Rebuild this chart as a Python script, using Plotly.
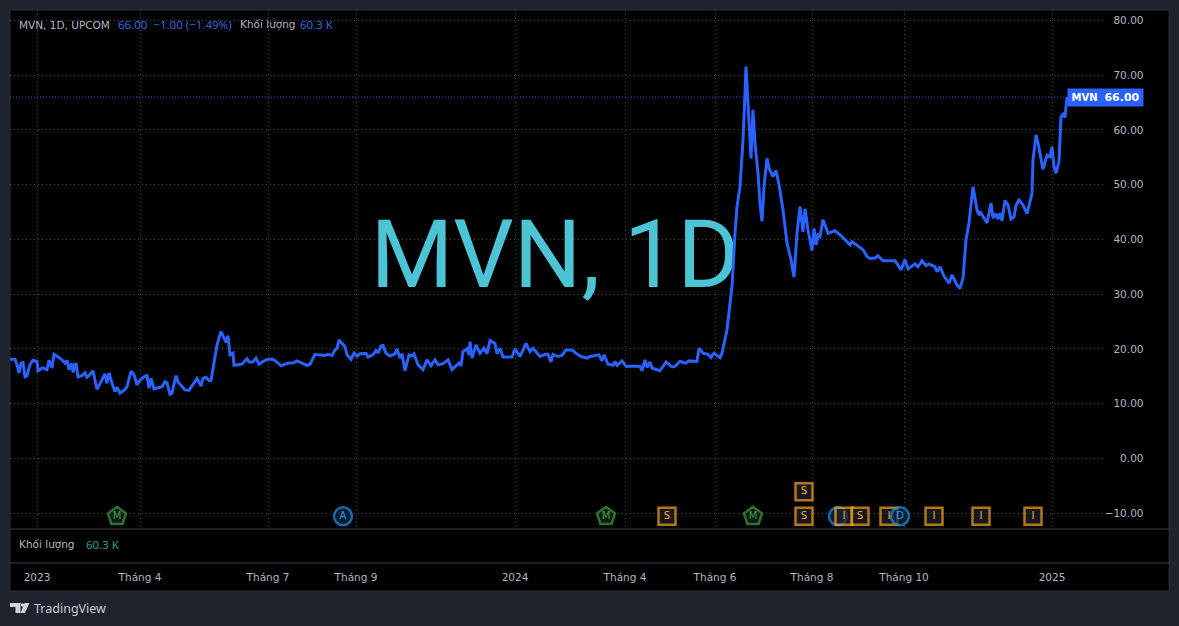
import plotly.graph_objects as go

# ---------- data: (bar position, close) ----------
early_2023 = [(0,18.1),(5,18.1),(7,17.1),(9,15.6),(11,17.4),(13,17.5),(15,14.9),(17,15.1),(20,17.1),(23,17.9),
(27,17.7),(28,16.0),(32,16.5),(33,16.5),(37,16.2),(39,17.9),(42,16.5),(44,19.0),(48,18.5),(52,18.0),(55,17.4),
(57,17.9),(59,16.2),(62,17.4),(63,15.7),(66,17.4),(68,14.9),(72,15.1),(75,15.6),(77,14.8),(79,15.1),(83,16.0),
(86,13.4),(87,12.6),(91,14.0),(95,15.4),(97,13.7),(99,15.6),(102,13.7),(105,12.2),(107,13.0),(110,11.9),
(115,12.6),(117,13.1),(121,15.9),(124,15.3),(127,13.4),(130,14.3),(134,14.9),(137,15.1),(139,12.8),(141,14.6),
(144,12.7),(148,12.9),(152,13.1),(155,14.0),(157,13.8),(160,11.7),(162,11.9),(166,15.1),(168,14.0),(172,13.1),
(175,12.5),(179,12.4),(183,13.4),(187,14.6),(191,13.2),(193,14.6),(196,14.8),(199,14.2),(201,14.2)]
mid_2023 = [(204,17.7),(207,20.7),(211,23.2),(214,22.1),(216,21.2),(218,22.4),(220,18.9),(223,19.2),(224,17.0),
(228,17.1),(232,17.2),(237,18.2),(239,17.6),(243,17.6),(246,18.3),(249,17.2),(253,17.7),(258,18.1),(263,18.1),
(266,17.7),(271,16.9),(275,17.2),(279,17.4),(283,17.4),(287,17.8),(292,17.4),(297,17.0),(300,17.2),(305,19.0),
(308,18.9),(315,18.8),(318,19.0),(322,18.8),(325,19.8),(327,20.1),(329,21.6)]
late_2023 = [(333,20.7),(335,20.4),(337,18.9),(341,18.1),(344,19.2),(347,18.7),(350,19.1),(356,19.2),(358,18.5),
(363,18.9),(366,19.7),(368,19.2),(371,20.5),(373,20.6),(376,19.2),(380,18.7),(385,19.1),(387,20.0),(390,18.3),
(392,19.1),(395,16.0),(399,18.9),(402,18.7),(404,19.1),(408,17.1),(413,16.2),(417,18.0),(421,16.9),(425,18.0),
(428,17.1),(433,17.3),(438,18.0),(442,16.2),(445,16.8),(449,17.4),(451,16.9),(453,19.5),(457,20.0),(459,18.9),
(460,21.3),(462,18.3),(466,20.7),(470,19.2),(474,20.1),(477,19.1),(480,21.5),(485,21.0),(487,19.1),(490,20.1),
(493,18.5),(502,18.5),(505,20.0),(510,18.6),(516,21.0),(520,19.5),(523,20.1),(529,18.7)]
early_2024 = [(530,18.6),(535,19.0),(538,19.0),(541,17.6),(543,19.0),(548,18.6),(552,18.8),(556,19.8),(562,19.8),
(566,19.2),(571,18.6),(577,18.3),(580,18.6),(589,18.9),(592,17.8),(594,18.9),(598,17.2),(603,17.0),(605,17.7),
(607,17.0),(612,17.8),(616,16.8),(630,16.8),(632,16.0),(635,18.0),(637,16.6),(640,17.6),(642,16.5),(650,16.0),
(656,17.6),(662,16.7),(665,16.8),(670,17.7),(676,17.4),(679,17.8),(687,17.7),(689,20.1),(693,19.2),(698,19.0),
(701,18.4),(704,19.2),(710,18.4),(712,19.2)]
spike_2024 = [(717,23.5),(722,31.4),(725,41.1),(727,46.0),(730,49.6),(733,58.2),(735,66.7),(736,71.6),(738,64.9),
(741,54.8),(743,63.7),(745,57.6),(748,52.1),(750,46.6),(752,43.3),(754,49.6),(757,54.8),(759,53.0),(763,51.5),
(766,52.6),(769,50.0),(773,45.4),(777,39.3),(781,36.3),(784,33.1),(787,41.1),(790,46.0),(793,41.4),(795,45.6),
(798,41.7),(802,38.0),(804,42.0),(806,39.0),(808,40.8),(810,40.5),(813,43.6),(818,41.1),(825,41.6),(832,40.5)]
drift_2024 = [(840,39.0),(842,39.6),(848,38.8),(853,38.1),(857,36.9),(860,36.5),(865,36.6),(868,37.0),(873,36.1),
(877,36.1),(885,36.1),(888,35.3),(891,34.4),(895,36.3),(898,34.6),(905,35.5),(908,35.0),(912,36.1),(916,35.2),
(919,35.5),(925,35.0),(927,34.1),(930,35.0),(934,33.3),(939,32.0),(942,33.5),(947,31.7),(950,31.0),(953,32.9)]
rally_2025 = [(956,39.9),(959,43.0),(963,49.6),(967,45.4),(969,44.4),(970,45.1),(977,43.0),(981,46.6),(983,43.9),
(986,44.7),(988,43.7),(990,44.8),(992,43.4),(995,47.1),(998,46.3),(1001,43.7),(1004,44.1),(1006,46.2),(1009,47.2),
(1013,46.3),(1017,44.7),(1022,48.4),(1023,54.5),(1026,59.1),(1028,57.6),(1033,52.8),(1037,55.4),(1040,55.1),
(1042,56.9),(1044,53.3),(1046,52.1),(1049,54.2),(1051,62.4),(1053,62.9),(1055,62.3),(1057,66.0)]

readings = early_2023 + mid_2023 + late_2023 + early_2024 + spike_2024 + drift_2024 + rally_2025
bar_pos = [r[0] for r in readings]
close = [r[1] for r in readings]

price_ticks = [80, 70, 60, 50, 40, 30, 20, 10, 0, -10]
price_labels = ["80.00", "70.00", "60.00", "50.00", "40.00", "30.00", "20.00", "10.00", "0.00", "\u221210.00"]
time_ticks = [27, 130, 258, 346, 505, 615, 705, 802, 894, 1042]
time_labels = ["2023", "Tháng 4", "Tháng 7", "Tháng 9", "2024", "Tháng 4", "Tháng 6", "Tháng 8", "Tháng 10", "2025"]
last_price = 66.0

event_pos = [107, 333, 596, 657, 743, 794, 794, 828, 834, 850, 879, 890, 924, 971, 1023]
event_val = [-10.6, -10.6, -10.6, -10.6, -10.6, -10.6, -6.1, -10.6, -10.6, -10.6, -10.6, -10.6, -10.6, -10.6, -10.6]
event_txt = ["M", "A", "M", "S", "M", "S", "S", "", "I", "S", "I", "D", "I", "I", "I"]

# ---------- helpers (page pixels to paper fractions) ----------
W, H = 1179, 626
L, R, T, B = 10, 1169, 10, 591
def fx(px): return (px - L) / (R - L)
def fy(py): return (B - py) / (B - T)

BLUE = "#2962ff"
GREY = "#b2b5be"
GRID = "#4a4d55"
FONT = "DejaVu Sans"

ORANGE, GREEN, CYAN = "#ffa726", "#43a047", "#2196f3"
colour = {"M": GREEN, "S": ORANGE, "I": ORANGE, "A": CYAN, "D": CYAN, "": CYAN}
fill = {"M": "#102a18", "S": "#1e222d", "I": "#1e222d", "A": "#0f2a44", "D": "#0f2a44", "": "#0f2a44"}
symbol = {"M": "pentagon", "S": "square", "I": "square", "A": "circle", "D": "circle", "": "circle"}
size = {"M": 19, "S": 17, "I": 17, "A": 18, "D": 18, "": 18}

fig = go.Figure()
fig.add_trace(go.Scatter(x=[545], y=[35.7], mode="text", text=["MVN, 1D"], textposition="middle center",
                         textfont=dict(family="Roboto", size=95, color="#4cc4d6"), hoverinfo="skip",
                         showlegend=False))
fig.add_trace(go.Scatter(x=bar_pos, y=close, mode="lines", line=dict(color=BLUE, width=3),
                         name="MVN", showlegend=False))
fig.add_trace(go.Scatter(x=event_pos, y=event_val, mode="markers+text", text=event_txt,
                         textposition="middle center",
                         textfont=dict(family=FONT, size=10, color=[colour[t] for t in event_txt]),
                         marker=dict(symbol=[symbol[t] for t in event_txt], size=[size[t] for t in event_txt],
                                     color=[fill[t] for t in event_txt],
                                     line=dict(color=[colour[t] for t in event_txt], width=2.5)),
                         showlegend=False, cliponaxis=False))

x_dom = [0, fx(1105)]
x_range = [0, 1095]
main_dom = [fy(529), 1]
vol_dom = [fy(563), fy(529)]

shapes = [
    dict(type="rect", xref="paper", yref="paper", x0=0, x1=1, y0=0, y1=1, fillcolor="#000000",
         line=dict(color="#2a2e39", width=1), layer="below"),
    dict(type="line", xref="x", yref="y", x0=x_range[0], x1=1057, y0=last_price, y1=last_price,
         line=dict(color=BLUE, width=1, dash="1px,2px"), layer="below"),
    dict(type="line", xref="paper", yref="paper", x0=0, x1=1, y0=fy(529), y1=fy(529), line=dict(color="#3a3d46", width=1)),
    dict(type="line", xref="paper", yref="paper", x0=0, x1=1, y0=fy(563), y1=fy(563), line=dict(color="#3a3d46", width=1)),
]
def poly(points):
    return "M" + " L".join(f"{fx(a):.5f},{fy(b):.5f}" for a, b in points) + " Z"
for pts in ([(10, 603), (20.5, 603), (20.5, 613), (15.5, 613), (15.5, 607), (10, 607)],
            [(24.5, 603), (29.5, 603), (25, 613), (20.5, 613)]):
    shapes.append(dict(type="path", xref="paper", yref="paper", path=poly(pts), fillcolor="#d1d4dc", line=dict(width=0)))
shapes.append(dict(type="circle", xref="paper", yref="paper", x0=fx(20.8), x1=fx(24.2), y0=fy(606.8), y1=fy(603.2),
                   fillcolor="#d1d4dc", line=dict(width=0)))

def label(px, py, text, color=GREY, size=10.5, bg=None, anchor="left", family=FONT, **kw):
    return dict(xref="paper", yref="paper", x=fx(px), y=fy(py), text=text, showarrow=False, xanchor=anchor,
                yanchor="middle", font=dict(family=family, size=size, color=color), bgcolor=bg, borderpad=0, **kw)

annotations = [
    label(18, 24.5, "MVN, 1D, UPCOM"),
    label(117, 24.5, "66.00&#160;&#160;\u22121.00 (\u22121.49%)", color="#3566dc", size=11.5, family="Noto Sans"),
    label(239, 24.5, "Khối lượng"),
    label(299, 24.5, "60.3 K", color="#3566dc", size=11.5, family="Noto Sans"),
    label(18, 544.5, "Khối lượng"),
    label(85, 544.5, "60.3 K", color="#2a9d8f", size=11.5, family="Noto Sans"),
    label(33, 608, "TradingView", color="#c8cbd3", size=12.5, family="Noto Sans"),
    label(1084, 97.5, "<b>MVN</b>", color="#ffffff", bg=BLUE, anchor="center", size=10, width=33, height=17),
    label(1122, 97.5, "<b>66.00</b>", color="#ffffff", bg=BLUE, anchor="center", size=11, width=42, height=17),
]

fig.update_layout(
    width=W, height=H, margin=dict(l=L, r=W - R, t=T, b=H - B, pad=0), autosize=False,
    paper_bgcolor="#1e222d", plot_bgcolor="#000000", showlegend=False,
    font=dict(family=FONT, color=GREY, size=11),
    shapes=shapes, annotations=annotations,
    xaxis=dict(domain=x_dom, range=x_range, anchor="y", tickvals=time_ticks, showticklabels=False,
               showgrid=True, gridcolor=GRID, griddash="1px,3px", gridwidth=1, zeroline=False, ticks=""),
    yaxis=dict(domain=main_dom, range=[-12.92, 81.92], anchor="free", position=fx(1143.5), side="left",
               tickvals=price_ticks, ticktext=price_labels, tickfont=dict(family=FONT, size=10.5, color=GREY),
               showgrid=True, gridcolor=GRID, griddash="1px,3px", gridwidth=1, zeroline=False, ticks="", automargin=False),
    xaxis2=dict(domain=x_dom, range=x_range, anchor="y2", tickvals=time_ticks, ticktext=time_labels, ticklabelstandoff=6,
                tickfont=dict(family=FONT, size=10.5, color=GREY), showgrid=False, zeroline=False, ticks="", automargin=False),
    yaxis2=dict(domain=vol_dom, range=[0, 1], anchor="x2", showticklabels=False, showgrid=False, zeroline=False, ticks=""),
)
fig.add_trace(go.Scatter(x=[], y=[], xaxis="x2", yaxis="y2", showlegend=False))
fig.write_html("out.html", config={"displayModeBar": False},
               post_script="document.body.style.margin='0';document.body.style.background='#1e222d';")
